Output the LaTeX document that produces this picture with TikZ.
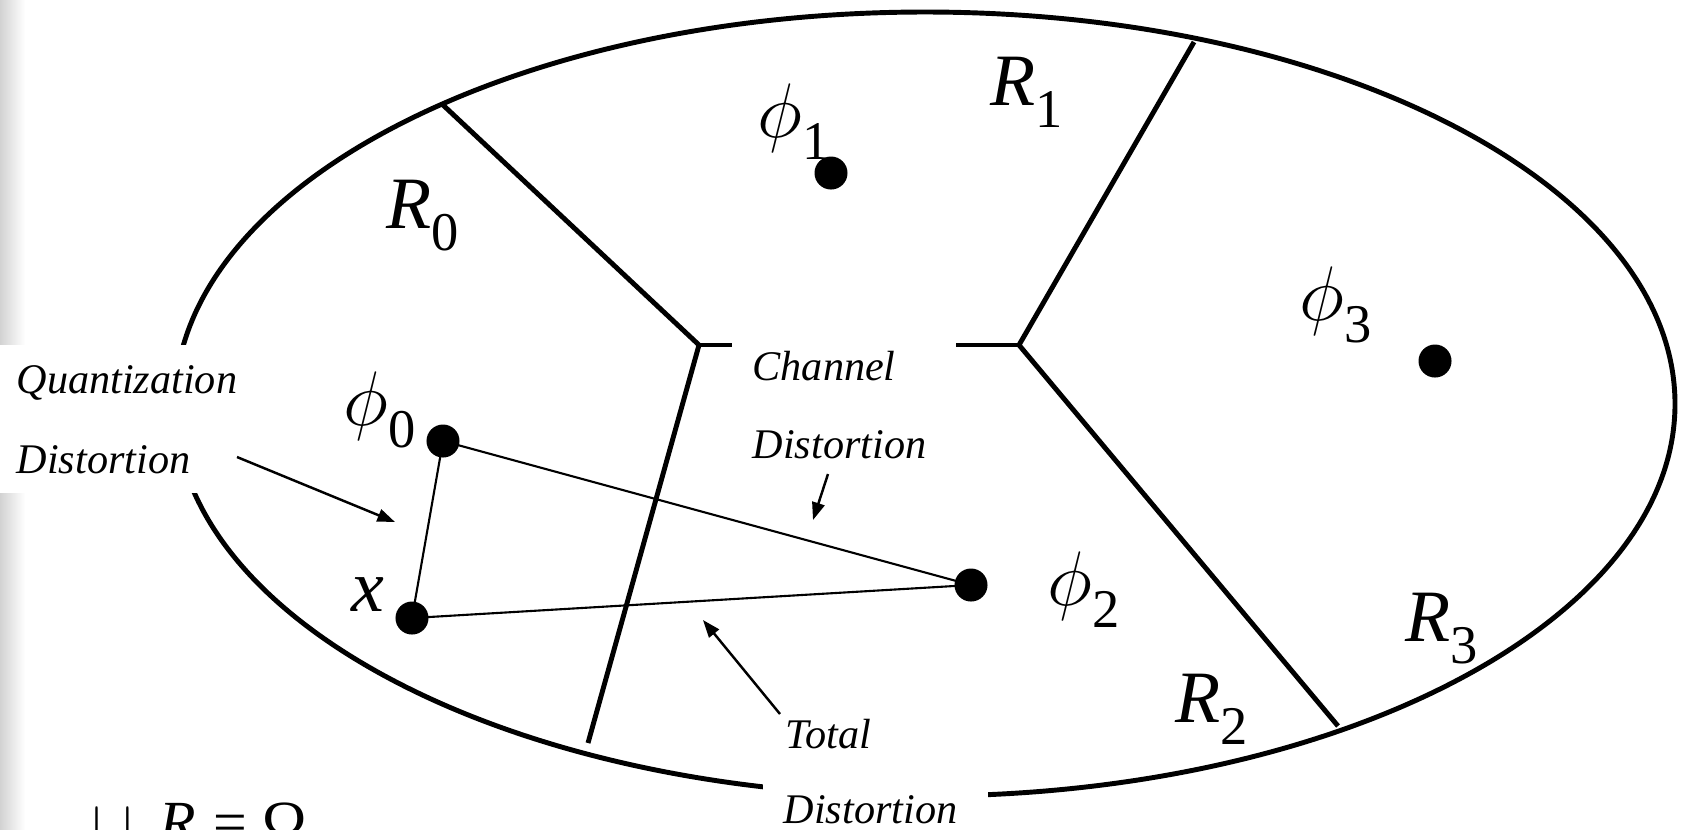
\documentclass[tikz,border=0pt]{standalone}
\usepackage{fix-cm}
\usepackage{fontspec}
\setmainfont{Liberation Serif}[ItalicFont={Liberation Serif Italic}]
\usetikzlibrary{arrows.meta}
\newcommand\sub[1]{\raisebox{-0.3em}{\fontsize{15.5}{15.5}\selectfont\upshape #1}}
\newcommand\phisym{{\fontsize{22}{22}\selectfont$\phi$}}
\begin{document}
\begin{tikzpicture}[x=0.01cm,y=-0.01cm,
  bound/.style={line width=1.4pt,line join=miter},
  conn/.style={line width=0.6pt},
  dot/.style={circle,fill=black,inner sep=0pt,minimum size=0.33cm},
  lab/.style={inner sep=0pt,anchor=base west,font=\fontsize{21}{21}\selectfont\itshape},
  note/.style={inner sep=0pt,anchor=base west,font=\fontsize{12}{12}\selectfont\itshape},
  ptr/.style={line width=0.7pt,-{Triangle[length=5pt,width=3.6pt]}}]
\useasboundingbox (0,0) rectangle (1682,829);
\shade[left color=gray!35,right color=white] (0,0) rectangle (25,829);
% outer region
\draw[bound] (925,404) ellipse [x radius=750, y radius=392];
% cell boundaries
\coordinate (A) at (443,105);
\coordinate (J1) at (699,345);
\coordinate (S1) at (732,345);
\coordinate (S2) at (956,345);
\coordinate (J2) at (1019,345);
\coordinate (B) at (1194,42);
\coordinate (C) at (1338,726);
\coordinate (D) at (588,743);
\draw[bound] (A) -- (J1) -- (D);
\draw[bound] (J1) -- (S1);
\draw[bound] (B) -- (J2) -- (C);
\draw[bound] (S2) -- (J2);
% label backgrounds
\fill[white] (0,345) rectangle (236,493);
\fill[white] (763,760) rectangle (988,829);
% points
\node[dot] (p1) at (831,173) {};
\node[dot] (p3) at (1435,361) {};
\node[dot] (p0) at (443,441) {};
\node[dot] (x)  at (412,618) {};
\node[dot] (p2) at (971,585) {};
\draw[conn] (p0.center) -- (x.center);
\draw[conn] (p0.center) -- (p2.center);
\draw[conn] (x.center) -- (p2.center);
% labels
\node[lab] (r0) at (386,228) {R\sub{0}};
\node[lab] (r1) at (990,105) {R\sub{1}};
\node[lab] (r2) at (1175,722) {R\sub{2}};
\node[lab] (r3) at (1405,641) {R\sub{3}};
\node[lab] (l0) at (343,425) {\phisym\sub{0}};
\node[lab] (l1) at (757,137) {\phisym\sub{1}};
\node[lab] (l2) at (1047,605) {\phisym\sub{2}};
\node[lab] (l3) at (1299,320) {\phisym\sub{3}};
\node[lab] (lx) at (351,611) {x};
% notes
\node[note] (q1) at (16,393) {Quantization};
\node[note] (q2) at (16,473) {Distortion};
\node[note] (c1) at (752,380) {Channel};
\node[note] (c2) at (752,458) {Distortion};
\node[note] (t1) at (785,748) {Total};
\node[note] (t2) at (783,823) {Distortion};
\coordinate (qs) at (237,457);
\coordinate (qe) at (395,522);
\coordinate (cs) at (828,474);
\coordinate (ce) at (813,520);
\coordinate (ts) at (780,714);
\coordinate (te) at (703,620);
\draw[ptr] (qs) -- (qe);
\draw[ptr] (cs) -- (ce);
\draw[ptr] (ts) -- (te);
% union formula (cut off at the bottom)
\node[inner sep=0pt,anchor=base west,font=\fontsize{17}{17}\selectfont] (u) at (92,842) {$\cup$\hspace{0.45em}\textit{R}\hspace{0.3em}=\hspace{0.25em}Ω};
\end{tikzpicture}
\end{document}
